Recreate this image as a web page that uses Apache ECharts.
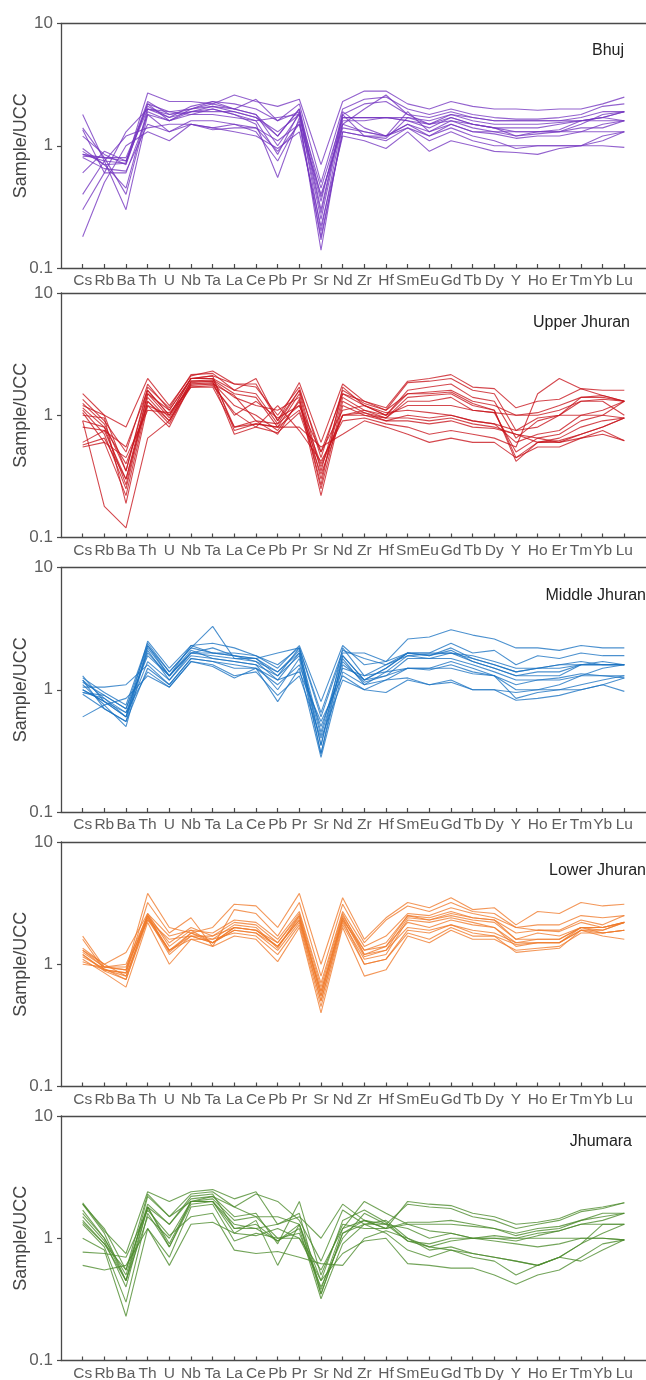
<!DOCTYPE html>
<html>
<head>
<meta charset="utf-8">
<script src="https://cdn.jsdelivr.net/npm/echarts@6/dist/echarts.min.js"></script>
<style>
  html, body { margin: 0; padding: 0; background: #fff; }
  #chart { width: 646px; height: 1380px; }
</style>
</head>
<body>
<div id="chart"></div>
<script>
// Trace elements along the x axis (UCC-normalised spider diagram)
const elements = ['Cs','Rb','Ba','Th','U','Nb','Ta','La','Ce','Pb','Pr','Sr','Nd','Zr','Hf','Sm','Eu','Gd','Tb','Dy','Y','Ho','Er','Tm','Yb','Lu'];

// Log-axis tick values
const yTicks = [0.1, 1, 10];

// Sample/UCC ratios, one row per sample, in element order
const bhuj = [
  [1.8, 0.75, 0.72, 2.7, 2.3, 2.3, 2.2, 2.6, 2.3, 2.1, 2.4, 0.7, 2.3, 2.8, 2.8, 2.2, 2.0, 2.3, 2.1, 2.0, 2.0, 1.95, 2.0, 2.0, 2.2, 2.5],
  [1.4, 0.8, 0.75, 2.3, 1.8, 2.0, 2.3, 2.0, 2.4, 1.6, 2.2, 0.5, 2.0, 2.4, 2.5, 2.0, 1.8, 2.0, 1.8, 1.7, 1.65, 1.65, 1.7, 1.8, 2.1, 2.2],
  [1.2, 0.85, 0.7, 2.2, 1.6, 2.0, 2.1, 1.9, 1.7, 1.2, 2.0, 0.3, 1.8, 2.2, 2.3, 1.8, 1.5, 1.8, 1.7, 1.6, 1.6, 1.6, 1.6, 1.7, 1.9, 1.9],
  [0.95, 0.7, 0.45, 2.0, 1.7, 1.9, 2.1, 2.0, 1.8, 1.0, 1.8, 0.25, 1.7, 1.7, 1.7, 1.7, 1.6, 1.8, 1.6, 1.5, 1.5, 1.5, 1.55, 1.6, 1.7, 1.9],
  [0.85, 0.8, 0.4, 1.9, 1.6, 1.8, 2.0, 1.8, 1.6, 0.85, 1.9, 0.2, 1.6, 1.6, 1.7, 1.6, 1.4, 1.7, 1.5, 1.4, 1.4, 1.4, 1.5, 1.6, 1.6, 1.6],
  [0.85, 0.75, 0.3, 1.8, 1.6, 1.9, 2.0, 1.8, 1.5, 0.55, 1.7, 0.14, 1.5, 1.3, 1.2, 1.9, 1.3, 1.6, 1.4, 1.3, 1.2, 1.3, 1.35, 1.6, 1.7, 1.6],
  [0.8, 0.65, 0.62, 1.5, 1.3, 1.5, 1.4, 1.5, 1.3, 0.75, 1.6, 0.17, 1.3, 1.2, 1.2, 1.5, 1.2, 1.5, 1.3, 1.25, 1.15, 1.2, 1.2, 1.3, 1.3, 1.3],
  [0.6, 0.9, 0.75, 2.0, 1.8, 1.9, 1.9, 1.9, 1.7, 1.3, 1.8, 0.35, 1.9, 1.4, 1.2, 1.5, 1.3, 1.5, 1.3, 1.3, 1.3, 1.3, 1.3, 1.3, 1.5, 1.6],
  [0.4, 0.75, 1.2, 1.4, 1.5, 1.5, 1.35, 1.4, 1.4, 1.1, 1.5, 0.4, 1.4, 1.3, 1.2, 1.4, 1.1, 1.3, 1.1, 1.0, 1.0, 1.0, 1.0, 1.0, 1.2, 1.3],
  [0.3, 0.6, 1.3, 2.0, 1.9, 1.8, 1.8, 1.7, 1.6, 1.7, 1.8, 0.45, 1.7, 1.7, 1.7, 1.6, 1.5, 1.6, 1.5, 1.4, 1.3, 1.3, 1.3, 1.4, 1.4, 1.6],
  [0.18, 0.5, 1.0, 1.3, 1.1, 1.5, 1.4, 1.3, 1.2, 0.95, 1.3, 0.22, 1.2, 1.1, 0.95, 1.3, 0.9, 1.1, 1.0, 0.9, 0.88, 0.85, 0.95, 1.0, 1.1, 1.3],
  [0.82, 0.8, 0.8, 2.1, 1.7, 2.1, 2.3, 2.2, 2.0, 1.6, 1.9, 0.28, 1.8, 1.2, 1.15, 1.7, 1.5, 1.7, 1.5, 1.4, 1.2, 1.25, 1.3, 1.5, 1.8, 1.9],
  [1.35, 0.6, 0.6, 1.8, 1.3, 1.6, 1.6, 1.5, 1.4, 0.9, 1.5, 0.18, 1.3, 1.2, 1.1, 1.4, 1.2, 1.4, 1.2, 1.1, 0.95, 1.0, 1.0, 1.0, 1.0, 0.97],
  [0.9, 0.7, 0.72, 2.2, 1.9, 2.0, 2.2, 2.0, 1.8, 1.2, 2.0, 0.38, 1.5, 2.0, 2.6, 1.8, 1.7, 1.9, 1.7, 1.6, 1.6, 1.6, 1.6, 1.6, 1.7, 1.9]
];

const upperJhuran = [
  [1.5, 1.0, 0.8, 2.0, 1.2, 2.1, 2.3, 1.8, 1.8, 0.9, 1.85, 0.6, 1.8, 1.3, 1.15, 1.9, 2.0, 2.15, 1.7, 1.65, 1.15, 1.3, 1.35, 1.65, 1.6, 1.6],
  [1.35, 0.9, 0.5, 1.8, 1.1, 2.0, 2.1, 1.8, 1.7, 1.0, 1.7, 0.45, 1.6, 1.25, 1.1, 1.85, 1.9, 2.0, 1.6, 1.5, 0.75, 0.95, 1.0, 1.4, 1.45, 1.3],
  [1.25, 0.85, 0.35, 1.6, 1.0, 2.0, 2.0, 1.6, 1.5, 0.85, 1.6, 0.35, 1.5, 1.2, 1.0, 1.6, 1.7, 1.8, 1.4, 1.3, 0.65, 0.9, 1.0, 1.3, 1.35, 1.3],
  [1.15, 0.8, 0.27, 1.5, 0.95, 1.9, 1.95, 1.5, 1.4, 0.8, 1.5, 0.3, 1.4, 1.1, 1.0, 1.5, 1.5, 1.55, 1.25, 1.1, 0.45, 0.6, 0.65, 0.8, 0.9, 0.95],
  [1.1, 0.7, 0.25, 1.4, 0.9, 1.85, 1.9, 1.4, 1.2, 1.1, 1.4, 0.25, 1.3, 1.05, 0.95, 1.4, 1.45, 1.5, 1.2, 1.1, 0.42, 0.6, 0.6, 0.7, 0.8, 0.95],
  [1.05, 0.6, 0.22, 1.3, 0.85, 1.8, 1.85, 1.2, 1.0, 0.75, 1.3, 0.22, 1.2, 1.0, 0.95, 1.3, 1.3, 1.4, 1.1, 1.05, 0.5, 0.65, 0.7, 0.9, 1.0, 1.3],
  [0.9, 0.8, 0.4, 1.2, 1.0, 1.75, 1.8, 1.0, 1.3, 0.95, 1.2, 0.5, 1.1, 1.2, 1.0, 1.2, 1.2, 1.2, 1.1, 1.05, 1.0, 1.0, 1.1, 1.3, 1.3, 1.0],
  [0.8, 0.75, 0.3, 1.5, 1.1, 2.0, 2.0, 0.8, 0.9, 0.85, 1.2, 0.4, 1.0, 1.0, 0.9, 1.0, 0.95, 1.0, 0.9, 0.85, 0.75, 0.8, 1.0, 1.0, 1.0, 0.95],
  [0.6, 0.75, 0.55, 1.6, 1.0, 2.0, 2.1, 0.75, 0.85, 0.8, 1.1, 0.38, 1.0, 1.1, 0.95, 0.95, 0.9, 0.95, 0.85, 0.8, 0.7, 0.6, 0.62, 0.7, 0.8, 0.95],
  [0.57, 0.65, 0.3, 1.3, 0.9, 1.9, 1.9, 0.7, 0.8, 0.72, 1.05, 0.33, 1.0, 1.05, 0.9, 0.9, 0.85, 0.9, 0.8, 0.78, 0.7, 0.65, 0.6, 0.65, 0.7, 0.62],
  [0.55, 0.6, 0.45, 1.1, 1.05, 1.7, 1.7, 0.8, 0.85, 0.8, 0.8, 0.55, 0.7, 0.9, 0.8, 0.7, 0.6, 0.65, 0.6, 0.6, 0.45, 0.55, 0.55, 0.65, 0.75, 0.62],
  [0.9, 0.18, 0.12, 0.65, 0.9, 1.7, 1.75, 1.05, 0.8, 1.2, 0.75, 0.42, 0.9, 0.95, 0.85, 0.8, 0.7, 0.75, 0.7, 0.65, 0.55, 1.5, 2.0, 1.65, 1.45, 1.3],
  [1.0, 0.95, 0.19, 1.2, 0.8, 1.8, 1.8, 1.45, 0.9, 0.7, 1.35, 0.27, 1.7, 1.2, 1.05, 1.1, 1.05, 1.0, 0.9, 0.85, 0.6, 0.7, 0.75, 1.0, 1.1, 1.3],
  [1.2, 1.0, 0.35, 1.7, 1.15, 2.15, 2.2, 1.6, 2.0, 0.9, 1.6, 0.5, 1.5, 1.3, 1.1, 1.5, 1.55, 1.6, 1.3, 1.2, 1.0, 1.05, 1.2, 1.4, 1.4, 1.3]
];

const middleJhuran = [
  [1.3, 0.8, 0.6, 2.5, 1.5, 2.3, 2.4, 2.2, 1.9, 1.5, 2.3, 0.8, 2.3, 1.6, 1.7, 2.6, 2.7, 3.1, 2.8, 2.6, 2.2, 2.2, 2.1, 2.3, 2.2, 2.2],
  [1.2, 0.7, 0.55, 2.3, 1.4, 2.2, 3.3, 1.8, 1.8, 2.0, 2.2, 0.6, 2.0, 2.0, 1.7, 2.0, 2.0, 2.4, 2.0, 2.1, 1.6, 1.9, 1.8, 2.0, 1.9, 1.9],
  [1.1, 0.75, 0.5, 2.2, 1.3, 2.0, 2.2, 1.9, 1.7, 1.4, 2.1, 0.45, 1.9, 1.2, 1.5, 2.0, 1.9, 2.2, 1.8, 1.6, 1.4, 1.5, 1.6, 1.7, 1.6, 1.6],
  [1.0, 0.8, 0.65, 2.0, 1.3, 2.0, 1.9, 1.8, 1.7, 1.2, 2.0, 0.35, 1.8, 1.1, 1.4, 1.9, 1.8, 2.0, 1.7, 1.5, 1.3, 1.3, 1.3, 1.6, 1.6, 1.6],
  [0.95, 0.85, 0.6, 1.7, 1.2, 1.9, 1.8, 1.7, 1.6, 1.0, 1.8, 0.3, 1.6, 1.2, 1.3, 1.8, 1.8, 1.8, 1.6, 1.4, 1.2, 1.2, 1.25, 1.35, 1.3, 1.25],
  [0.92, 0.7, 0.55, 1.5, 1.1, 1.8, 1.7, 1.5, 1.5, 0.8, 1.5, 0.28, 1.4, 1.1, 1.2, 1.5, 1.5, 1.7, 1.5, 1.3, 1.0, 1.0, 1.1, 1.3, 1.5, 1.6],
  [0.6, 0.75, 0.85, 1.3, 1.05, 1.7, 1.6, 1.3, 1.4, 0.9, 1.3, 0.4, 1.2, 1.0, 0.95, 1.2, 1.1, 1.15, 1.0, 1.0, 0.82, 0.85, 0.9, 1.0, 1.1, 1.25],
  [1.05, 1.05, 1.1, 1.6, 1.1, 1.8, 1.7, 1.6, 1.5, 1.1, 1.6, 0.5, 1.5, 1.3, 1.4, 1.5, 1.5, 1.5, 1.35, 1.3, 0.85, 0.95, 1.0, 1.0, 1.1, 0.97],
  [1.25, 0.95, 0.75, 2.4, 1.4, 2.2, 2.0, 2.0, 1.9, 1.6, 2.2, 0.65, 2.1, 1.8, 1.6, 2.0, 2.0, 2.0, 1.9, 1.7, 1.5, 1.5, 1.6, 1.6, 1.7, 1.6],
  [1.15, 0.9, 0.7, 1.9, 1.3, 2.1, 1.8, 1.7, 1.6, 1.3, 1.9, 0.42, 1.7, 1.15, 1.3, 1.5, 1.45, 1.6, 1.4, 1.3, 1.1, 1.2, 1.2, 1.3, 1.3, 1.3],
  [1.0, 0.8, 0.6, 2.1, 1.2, 2.0, 2.0, 1.9, 1.8, 1.4, 2.0, 0.3, 1.9, 1.2, 1.5, 2.0, 1.9, 2.1, 1.7, 1.5, 1.3, 1.4, 1.4, 1.6, 1.6, 1.6],
  [1.2, 0.85, 0.65, 1.4, 1.05, 1.7, 1.55, 1.25, 1.5, 1.2, 1.4, 0.55, 1.3, 1.0, 1.2, 1.25, 1.1, 1.2, 1.0, 1.0, 0.95, 1.0, 1.0, 1.1, 1.2, 1.3],
  [0.95, 0.9, 0.7, 2.3, 1.3, 2.3, 2.0, 1.9, 1.8, 1.3, 2.2, 0.35, 2.2, 1.3, 1.6, 1.9, 1.95, 2.0, 1.8, 1.6, 1.4, 1.5, 1.5, 1.6, 1.6, 1.6]
];

const lowerJhuran = [
  [1.7, 0.95, 0.9, 3.8, 2.0, 1.8, 2.0, 3.1, 3.0, 2.0, 3.8, 1.0, 3.5, 1.6, 2.4, 3.2, 2.9, 3.5, 2.8, 2.9, 2.1, 2.7, 2.6, 3.2, 3.0, 3.1],
  [1.6, 0.9, 0.85, 3.2, 1.8, 2.4, 1.4, 2.8, 2.6, 1.7, 3.2, 0.8, 3.1, 1.5, 2.3, 3.0, 2.7, 3.2, 2.7, 2.6, 2.0, 2.1, 2.1, 2.5, 2.4, 2.5],
  [1.35, 1.0, 1.25, 2.6, 1.7, 1.9, 1.8, 2.3, 2.2, 1.6, 2.7, 0.7, 2.7, 1.4, 1.7, 2.6, 2.5, 2.9, 2.6, 2.4, 2.0, 1.9, 1.9, 2.3, 2.1, 2.5],
  [1.3, 0.95, 1.0, 2.5, 1.5, 2.0, 1.7, 2.2, 2.1, 1.5, 2.5, 0.6, 2.5, 1.3, 1.5, 2.5, 2.4, 2.7, 2.4, 2.3, 1.8, 1.9, 1.85, 2.2, 2.0, 2.2],
  [1.25, 0.95, 0.9, 2.5, 1.3, 1.8, 1.5, 2.0, 1.9, 1.4, 2.4, 0.55, 2.4, 1.2, 1.3, 2.4, 2.3, 2.5, 2.3, 2.2, 1.6, 1.8, 1.7, 2.0, 1.9, 2.2],
  [1.2, 0.9, 0.8, 2.4, 1.2, 1.7, 1.5, 1.9, 1.8, 1.3, 2.2, 0.5, 2.2, 1.1, 1.2, 2.3, 2.2, 2.4, 2.2, 2.0, 1.5, 1.5, 1.5, 2.0, 1.8, 1.9],
  [1.15, 0.92, 0.75, 2.3, 1.3, 1.6, 1.6, 1.8, 1.7, 1.2, 2.1, 0.45, 2.1, 1.0, 1.1, 1.8, 1.6, 2.0, 1.7, 1.7, 1.45, 1.5, 1.5, 1.9, 1.9, 2.2],
  [1.1, 0.85, 0.65, 2.2, 1.0, 1.6, 1.4, 1.7, 1.6, 1.05, 2.0, 0.4, 2.0, 0.8, 0.9, 1.7, 1.5, 1.9, 1.6, 1.6, 1.3, 1.35, 1.4, 1.8, 1.8, 1.9],
  [1.05, 0.9, 0.85, 2.6, 1.4, 1.9, 1.5, 2.0, 1.9, 1.5, 2.6, 0.65, 2.6, 1.2, 1.4, 2.2, 2.0, 2.3, 2.1, 2.0, 1.4, 1.5, 1.5, 1.9, 1.7, 1.6],
  [1.0, 0.95, 0.95, 2.3, 1.6, 1.7, 1.7, 2.0, 1.9, 1.4, 2.3, 0.6, 2.3, 1.0, 1.1, 1.9, 1.8, 2.1, 1.8, 1.7, 1.25, 1.3, 1.35, 1.9, 1.8, 1.9],
  [1.3, 1.0, 0.8, 2.4, 1.3, 1.7, 1.5, 1.9, 1.8, 1.4, 2.3, 0.5, 2.3, 1.3, 1.4, 2.5, 2.3, 2.6, 2.4, 2.3, 1.6, 1.6, 1.6, 2.0, 2.0, 2.2],
  [1.2, 0.88, 0.75, 2.5, 1.25, 1.8, 1.6, 2.1, 2.0, 1.35, 2.5, 0.55, 2.4, 1.15, 1.3, 2.0, 1.9, 2.1, 1.9, 1.8, 1.5, 1.6, 1.6, 2.0, 2.0, 2.2]
];

const jhumara = [
  [1.95, 1.15, 0.75, 2.4, 2.0, 2.4, 2.5, 2.1, 2.4, 1.3, 1.5, 1.0, 1.9, 1.4, 1.2, 2.0, 1.9, 1.85, 1.6, 1.5, 1.3, 1.35, 1.45, 1.7, 1.8, 1.95],
  [1.9, 1.1, 0.45, 2.2, 1.5, 2.3, 2.4, 1.8, 2.3, 2.0, 1.4, 0.65, 1.7, 1.3, 1.3, 1.9, 1.8, 1.75, 1.5, 1.4, 1.2, 1.3, 1.4, 1.65, 1.75, 1.95],
  [1.6, 1.0, 0.5, 1.9, 1.3, 2.1, 2.2, 1.5, 1.6, 0.9, 2.0, 0.5, 1.3, 1.2, 1.2, 1.35, 1.35, 1.4, 1.3, 1.2, 1.05, 1.15, 1.2, 1.4, 1.6, 1.6],
  [1.5, 0.95, 0.4, 1.8, 0.9, 2.0, 2.1, 1.4, 1.5, 1.5, 1.3, 0.35, 1.1, 1.4, 1.2, 1.3, 1.3, 1.3, 1.25, 1.2, 1.1, 1.2, 1.25, 1.4, 1.5, 1.6],
  [1.3, 0.85, 0.3, 1.6, 0.85, 2.0, 2.0, 1.2, 1.3, 0.95, 1.2, 0.32, 0.9, 1.3, 1.4, 1.0, 0.85, 0.95, 1.0, 1.0, 0.95, 1.05, 1.15, 1.3, 1.4, 1.6],
  [1.0, 0.8, 0.23, 1.2, 0.7, 1.8, 1.9, 0.95, 1.1, 1.0, 1.1, 0.4, 1.0, 1.6, 1.3, 0.95, 0.9, 1.0, 1.0, 1.05, 1.0, 1.1, 1.15, 1.3, 1.3, 1.3],
  [0.77, 0.75, 0.7, 1.7, 1.05, 1.5, 1.6, 0.8, 0.75, 0.78, 0.7, 0.62, 0.6, 1.0, 1.15, 1.0, 0.8, 0.85, 0.75, 0.7, 0.65, 0.6, 0.7, 0.65, 0.8, 0.97],
  [0.6, 0.55, 0.6, 1.2, 0.6, 1.3, 1.35, 1.1, 1.05, 1.2, 1.0, 0.45, 0.75, 0.95, 1.0, 0.62, 0.6, 0.57, 0.57, 0.5, 0.42, 0.5, 0.55, 0.7, 0.9, 0.97],
  [1.4, 0.9, 0.45, 1.8, 1.3, 2.2, 2.3, 1.2, 1.2, 0.95, 1.3, 0.38, 1.2, 2.0, 1.6, 1.3, 1.15, 1.1, 1.0, 0.95, 0.9, 0.85, 0.9, 1.0, 1.0, 0.97],
  [1.9, 1.2, 0.55, 1.8, 0.85, 1.9, 2.0, 1.1, 1.4, 0.6, 1.3, 0.45, 1.4, 1.7, 1.35, 0.95, 0.85, 0.8, 0.75, 0.7, 0.65, 0.6, 0.7, 0.9, 1.3, 1.3],
  [1.7, 1.0, 0.45, 1.5, 1.0, 2.0, 2.0, 1.3, 1.2, 1.3, 1.6, 0.35, 1.1, 1.3, 1.1, 0.8, 0.7, 0.8, 0.7, 0.65, 0.5, 0.6, 0.7, 0.9, 1.1, 1.3],
  [1.35, 0.9, 0.55, 2.3, 1.5, 2.0, 2.2, 1.8, 1.5, 1.0, 1.0, 0.55, 1.2, 1.4, 1.3, 1.2, 1.0, 1.1, 1.0, 1.0, 1.0, 1.0, 1.0, 1.0, 1.0, 0.97]
];

const panelNames = ['Bhuj', 'Upper Jhuran', 'Middle Jhuran', 'Lower Jhuran', 'Jhumara'];
const panelData = [bhuj, upperJhuran, middleJhuran, lowerJhuran, jhumara];
const panelColors = ['#7436c0', '#c8141c', '#1a72c2', '#f07a2a', '#4c8a2c'];

// Layout of the stacked panels
const gridLeft = 61;
const gridTops = [23.5, 293, 567.5, 842, 1116];
const gridHeight = 244.5;
const labelPos = [[624, 51], [630, 323], [646, 596], [646, 871], [632, 1142]];

const FONT = '"Liberation Sans", Arial, Helvetica, sans-serif';
const AXIS_COLOR = '#4a4a4a';
const LABEL_COLOR = '#5e5e5e';
const tickIdx = elements.map((_, i) => i);

const grids = [], xAxes = [], yAxes = [], series = [], graphics = [];

panelData.forEach((samples, k) => {
  grids.push({
    left: gridLeft, right: 0, top: gridTops[k], height: gridHeight,
    containLabel: false, outerBoundsMode: 'none'
  });

  // bottom element axis
  xAxes.push({
    type: 'value', gridIndex: k, min: -1, max: 26, position: 'bottom',
    splitLine: { show: false },
    axisLine: { show: true, onZero: false, lineStyle: { color: AXIS_COLOR, width: 1.3 } },
    axisTick: { show: true, inside: true, length: 4, customValues: tickIdx, lineStyle: { color: AXIS_COLOR, width: 1.2 } },
    axisLabel: {
      show: true, customValues: tickIdx, margin: 5,
      formatter: v => elements[v] || '',
      color: LABEL_COLOR, fontSize: 15.5, fontFamily: FONT
    }
  });
  // top frame line
  xAxes.push({
    type: 'value', gridIndex: k, min: -1, max: 26, position: 'top',
    splitLine: { show: false },
    axisLine: { show: true, onZero: false, lineStyle: { color: AXIS_COLOR, width: 1.3 } },
    axisTick: { show: false }, axisLabel: { show: false }
  });

  yAxes.push({
    type: 'log', logBase: 10, gridIndex: k, min: 0.1, max: 10, position: 'left',
    name: 'Sample/UCC', nameLocation: 'middle', nameGap: 31, nameRotate: 90,
    nameMoveOverlap: false,
    nameTextStyle: { color: '#444', fontSize: 18, fontFamily: FONT },
    splitLine: { show: false },
    minorTick: { show: false },
    axisLine: { show: true, onZero: false, lineStyle: { color: AXIS_COLOR, width: 1.3 } },
    axisTick: { show: true, inside: false, length: 4, customValues: yTicks, lineStyle: { color: AXIS_COLOR, width: 1.2 } },
    axisLabel: {
      customValues: yTicks, margin: 8,
      formatter: v => String(v),
      color: LABEL_COLOR, fontSize: 17, fontFamily: FONT
    }
  });

  samples.forEach((row, j) => {
    series.push({
      type: 'line', xAxisIndex: 2 * k, yAxisIndex: k,
      name: panelNames[k] + ' ' + (j + 1),
      data: row.map((v, i) => [i, v]),
      symbol: 'none', silent: true, animation: false,
      lineStyle: { color: panelColors[k], width: 1.1, opacity: 0.78 }
    });
  });

  graphics.push({
    type: 'text', x: labelPos[k][0], y: labelPos[k][1],
    style: {
      text: panelNames[k], fill: '#222', font: '16px ' + FONT,
      textAlign: 'right', textVerticalAlign: 'middle'
    }
  });
});

const chart = echarts.init(document.getElementById('chart'), null, { renderer: 'canvas' });
chart.setOption({
  backgroundColor: '#ffffff',
  animation: false,
  grid: grids,
  xAxis: xAxes,
  yAxis: yAxes,
  series: series,
  graphic: graphics
});
</script>
</body>
</html>
